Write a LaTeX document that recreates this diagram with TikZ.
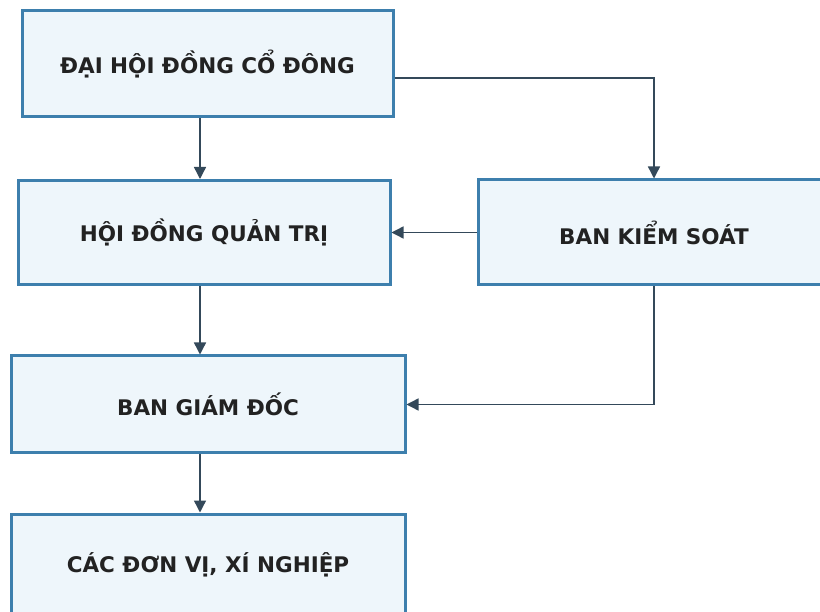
\documentclass[tikz,border=0pt]{standalone}
\usepackage{fontspec}
\setmainfont{DejaVu Sans}
\usetikzlibrary{arrows.meta}

\definecolor{boxblue}{HTML}{3D7FAD}
\definecolor{boxfill}{HTML}{EEF6FB}
\definecolor{linegray}{HTML}{34495A}
\definecolor{labeltext}{HTML}{222222}

\begin{document}
\begin{tikzpicture}
  [x=1pt,y=-1pt,
   box/.style={rectangle,draw=boxblue,fill=boxfill,line width=3pt,
     font=\bfseries\fontsize{21.5}{24}\selectfont,text=labeltext},
   arr/.style={draw=linegray,line width=1.4pt,-{Triangle[width=12pt,length=12pt]}}]
  \useasboundingbox (0,0) rectangle (820,612);
  \clip (0,0) rectangle (820,612);

  \node[box,minimum width=371pt,minimum height=106pt] (dhdcd) at (207.5,64)  {ĐẠI HỘI ĐỒNG CỔ ĐÔNG};
  \node[box,minimum width=372pt,minimum height=104pt] (hdqt)  at (204,232.5) {HỘI ĐỒNG QUẢN TRỊ};
  \node[box,minimum width=352pt,minimum height=105pt] (bks)   at (654,232.5) {BAN KIỂM SOÁT};
  \node[box,minimum width=394pt,minimum height=97pt]  (bgd)   at (208,404.5) {BAN GIÁM ĐỐC};
  \node[box,minimum width=394pt,minimum height=102pt] (dvxn)  at (208,565)   {CÁC ĐƠN VỊ, XÍ NGHIỆP};

  \coordinate (spine) at (200,0);

  \foreach \from/\to in {dhdcd/hdqt,hdqt/bgd,bgd/dvxn}
    \draw[arr] (\from.south -| spine) -- (\to.north -| spine);

  \draw[arr] ([yshift=-14pt]dhdcd.east) -| (bks.north);
  \draw[arr] (bks.west) -- (hdqt.east);
  \draw[arr] (bks.south) |- (bgd.east);

\end{tikzpicture}
\end{document}
